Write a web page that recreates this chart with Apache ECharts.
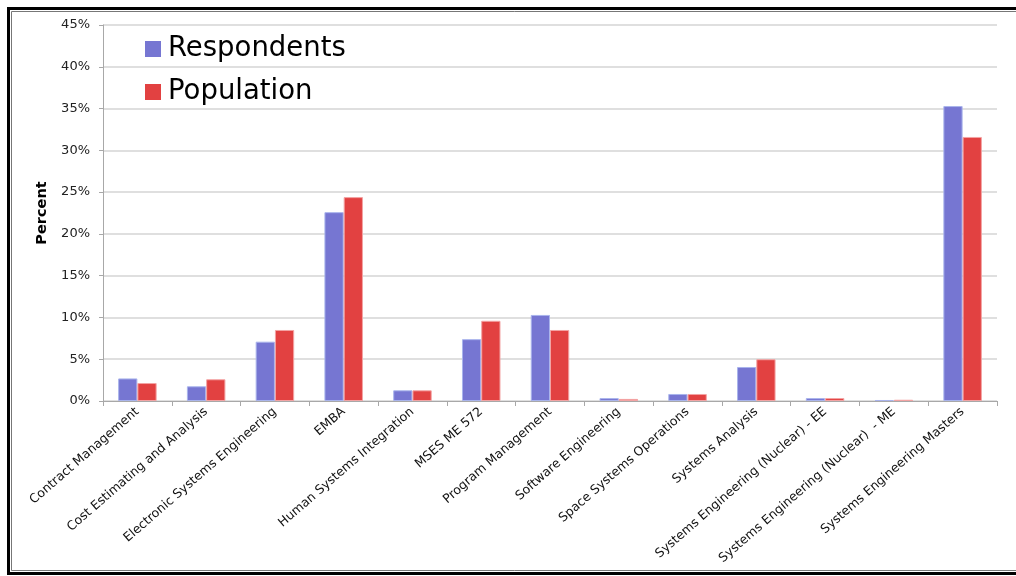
<!DOCTYPE html>
<html>
<head>
<meta charset="utf-8">
<style>
  html, body { margin: 0; padding: 0; background: #fff; overflow: hidden; }
  #chart { width: 1016px; height: 576px; }
</style>
<script src="https://cdn.jsdelivr.net/npm/echarts@6/dist/echarts.min.js"></script>
</head>
<body>
<div id="chart"></div>
<script>
// Programs (x-axis categories)
const programs = [
  'Contract Management',
  'Cost Estimating and Analysis',
  'Electronic Systems Engineering',
  'EMBA',
  'Human Systems Integration',
  'MSES ME 572',
  'Program Management',
  'Software Engineering',
  'Space Systems Operations',
  'Systems Analysis',
  'Systems Engineering (Nuclear) - EE',
  'Systems Engineering (Nuclear)  - ME',
  'Systems Engineering Masters'
];

// Share of each program, in percent
const respondents = [2.7, 1.76, 7.1, 22.6, 1.28, 7.4, 10.3, 0.35, 0.84, 4.07, 0.35, 0.12, 35.3];
const population  = [2.15, 2.6, 8.5, 24.4, 1.28, 9.6, 8.5, 0.25, 0.84, 5.0, 0.35, 0.15, 31.6];

const seriesNames = ['Respondents', 'Population'];

// Y axis range and step, in percent
const yMin = 0, yMax = 45, yStep = 5;

const chart = echarts.init(document.getElementById('chart'), null, { renderer: 'canvas' });

const font = 'DejaVu Sans';

chart.setOption({
  animation: false,
  backgroundColor: '#ffffff',
  textStyle: { fontFamily: font },
  grid: { left: 103, right: 19, top: 25, bottom: 175, containLabel: false },
  legend: {
    orient: 'vertical',
    left: 145,
    top: 35,
    padding: 0,
    itemWidth: 16,
    itemHeight: 16,
    itemGap: 15,
    icon: 'rect',
    itemStyle: { borderWidth: 0 },
    textStyle: { fontFamily: font, fontSize: 27.5, lineHeight: 27, color: '#000', padding: [0, 0, 0, 2] },
    data: seriesNames
  },
  xAxis: {
    type: 'category',
    data: programs,
    axisLine: { lineStyle: { color: '#a8a8a8', width: 1 } },
    axisTick: { show: true, length: 5, lineStyle: { color: '#a8a8a8' } },
    axisLabel: {
      interval: 0,
      rotate: 41,
      margin: 9,
      fontFamily: font,
      fontSize: 12.5,
      color: '#111'
    },
    splitLine: { show: false }
  },
  yAxis: {
    type: 'value',
    min: yMin,
    max: yMax,
    interval: yStep,
    name: 'Percent',
    nameLocation: 'middle',
    nameGap: 53,
    nameTextStyle: { fontFamily: font, fontSize: 14.5, fontWeight: 'bold', color: '#000' },
    axisLine: { show: true, lineStyle: { color: '#a8a8a8', width: 1 } },
    axisTick: { show: true, length: 4, lineStyle: { color: '#a8a8a8' } },
    axisLabel: {
      formatter: v => v + '%',
      margin: 13,
      fontFamily: font,
      fontSize: 13,
      color: '#222'
    },
    splitLine: { show: true, lineStyle: { color: '#d4d4d4', width: 1.5 } }
  },
  series: [
    {
      name: seriesNames[0],
      type: 'bar',
      data: respondents,
      barWidth: '28%',
      barGap: '0%',
      itemStyle: { color: '#7676d2', borderColor: '#a9b4ec', borderWidth: 1 }
    },
    {
      name: seriesNames[1],
      type: 'bar',
      data: population,
      barWidth: '28%',
      barGap: '0%',
      itemStyle: { color: '#e24141', borderColor: '#f3a3a3', borderWidth: 1 }
    }
  ],
  // Open frame: top, left and bottom edges only (it runs off the right side)
  graphic: [
    {
      type: 'polyline',
      silent: true,
      shape: { points: [[1030, 8.5], [8.5, 8.5], [8.5, 573.5], [1030, 573.5]] },
      style: { fill: null, stroke: '#000', lineWidth: 3 }
    },
    {
      type: 'polyline',
      silent: true,
      shape: { points: [[1030, 11.5], [11.5, 11.5], [11.5, 570.5], [1030, 570.5]] },
      style: { fill: null, stroke: '#777', lineWidth: 1 }
    }
  ]
});
</script>
</body>
</html>
